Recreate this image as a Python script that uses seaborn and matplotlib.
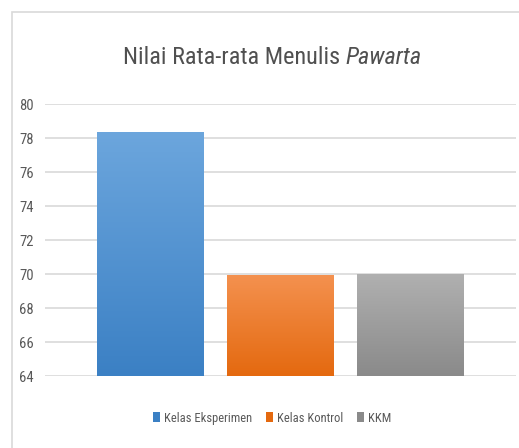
import matplotlib
matplotlib.use("Agg")
import matplotlib.pyplot as plt
import seaborn as sns
import numpy as np
import pandas as pd
from matplotlib import font_manager
from matplotlib.colors import LinearSegmentedColormap
from matplotlib.patches import Rectangle, Patch

categories = ["Kelas Eksperimen", "Kelas Kontrol", "KKM"]
values = [78.35, 69.92, 70.0]
yticks = [64, 66, 68, 70, 72, 74, 76, 78, 80]
top_colors = ["#6CA6DD", "#F4914F", "#B0B0B0"]
bottom_colors = ["#3B80C4", "#E4690F", "#8A8A8A"]

sns.set_style("white")
names = {f.name for f in font_manager.fontManager.ttflist}
fam = "Open Sans"
narrow = False
for cand in ["Liberation Sans Narrow", "Roboto Condensed", "Open Sans Condensed",
             "Noto Sans Condensed", "DejaVu Sans Condensed"]:
    if cand in names:
        fam = cand
        narrow = True
        break
plt.rcParams['font.family'] = [fam, 'DejaVu Sans']

fig = plt.figure(figsize=(5.19, 4.48), dpi=100)
ax = fig.add_axes([45/519, 1-376/448, (516-45)/519, (376-104)/448])

df = pd.DataFrame({"cat": categories, "val": values})
sns.barplot(data=df, x="cat", y="val", hue="cat", palette=top_colors,
            width=107/130.5, ax=ax, legend=False, zorder=2)

ymin, ymax = 64, 80
ax.set_ylim(ymin, ymax)
ax.set_xlim(-0.805, 2.805)
ax.set_yticks(yticks)
ax.set_yticklabels([str(t) for t in yticks], color="#595959",
                   fontsize=10.5 if narrow else 9.5)
ax.set_xticks([])
ax.set_xlabel("")
ax.set_ylabel("")
for s in ax.spines.values():
    s.set_visible(False)
ax.yaxis.grid(True, color="#D9D9D9", linewidth=1.2, zorder=0)
ax.set_axisbelow(True)
ax.tick_params(axis="y", length=0, pad=8)

# gradients over the visible part of each bar
for i, p in enumerate(ax.patches):
    x0 = p.get_x()
    w = p.get_width()
    top = p.get_y() + p.get_height()
    cmap = LinearSegmentedColormap.from_list("g", [bottom_colors[i], top_colors[i]])
    grad = np.linspace(0, 1, 256).reshape(-1, 1)
    ax.imshow(grad, extent=[x0, x0 + w, ymin, top], origin="lower",
              cmap=cmap, aspect="auto", zorder=3)
    p.set_edgecolor("none")
ax.set_xlim(-0.805, 2.805)
ax.set_ylim(ymin, ymax)

# chart border
fig.patches.append(Rectangle((12/519, -0.1), 1.2, (448-12)/448 + 0.1,
                             transform=fig.transFigure, fill=False,
                             edgecolor="#D9D9D9", linewidth=1.2))

# title
tsize = 17.5 if narrow else 15.5
t1 = "Nilai Rata-rata Menulis "
t2 = "Pawarta"
tt = fig.text(0, 1-57/448, t1, fontsize=tsize, color="#505050", va="center", ha="left")
ti = fig.text(0, 1-57/448, t2, fontsize=tsize, color="#505050", va="center", ha="left", style="italic")
fig.canvas.draw()
r = fig.canvas.get_renderer()
w1 = tt.get_window_extent(r).width
w2 = ti.get_window_extent(r).width
start = 272 - (w1 + w2) / 2
tt.set_x(start / 519)
ti.set_x((start + w1) / 519)

# legend
handles = [Patch(facecolor=c, edgecolor="none") for c in bottom_colors]
fig.legend(handles=handles, labels=categories, loc="center",
           bbox_to_anchor=(272/519, 1-418/448),
           ncol=3, frameon=False, fontsize=9 if narrow else 8.5,
           handlelength=0.6, handleheight=0.9,
           handletextpad=0.3, columnspacing=1.1, labelcolor="#595959")

fig.savefig("out.png", dpi=100)
